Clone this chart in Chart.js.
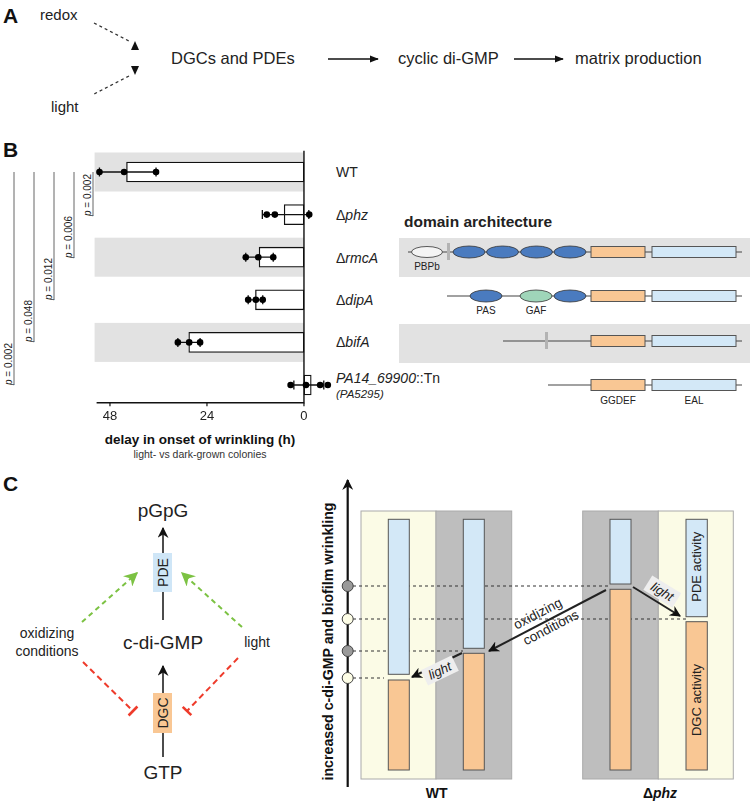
<!DOCTYPE html>
<html>
<head>
<meta charset="utf-8">
<script src="https://cdn.jsdelivr.net/npm/chart.js@4.4.1/dist/chart.umd.min.js"></script>
<style>
  body { margin: 0; background: #fff; }
  #wrap { position: relative; width: 750px; height: 804px; font-family: "Liberation Sans", Arial, Helvetica, sans-serif; }
  #fig { position: absolute; left: 0; top: 0; z-index: 0; }
  #chartB { position: absolute; left: 0; top: 140px; z-index: 1; }
  text { font-family: "Liberation Sans", Arial, Helvetica, sans-serif; fill: #222; }
</style>
</head>
<body>
<div id="wrap">
<svg id="fig" width="750" height="804" viewBox="0 0 750 804">
  <defs>
    <marker id="blk" viewBox="0 0 10 10" refX="9" refY="5" markerWidth="11" markerHeight="11" markerUnits="userSpaceOnUse" orient="auto">
      <path d="M0,0 L10,5 L0,10 L3,5 z" fill="#111"/>
    </marker>
    <marker id="blkS" viewBox="0 0 10 10" refX="9" refY="5" markerWidth="9" markerHeight="9" markerUnits="userSpaceOnUse" orient="auto">
      <path d="M0,1 L10,5 L0,9 z" fill="#111"/>
    </marker>
    <marker id="grn" viewBox="0 0 10 10" refX="9" refY="5" markerWidth="14" markerHeight="14" markerUnits="userSpaceOnUse" orient="auto">
      <path d="M0,0 L10,5 L0,10 L3,5 z" fill="#7cc243"/>
    </marker>
  </defs>

  <!-- panel A -->
  <text x="3" y="23" font-size="21" font-weight="bold" style="fill:#111">A</text>
  <text x="40" y="20" font-size="15">redox</text>
  <line x1="94" y1="23" x2="129" y2="41" stroke="#333" stroke-width="1.3" stroke-dasharray="3,3"/>
  <path d="M135,41 L131,50 L139,50 z" fill="#111"/>
  <path d="M131,66 L139,66 L135,75 z" fill="#111"/>
  <line x1="129" y1="76" x2="94" y2="94" stroke="#333" stroke-width="1.3" stroke-dasharray="3,3"/>
  <text x="51" y="112" font-size="15">light</text>
  <text x="171" y="64" font-size="16.5">DGCs and PDEs</text>
  <line x1="328" y1="59" x2="378" y2="59" stroke="#111" stroke-width="1.6" marker-end="url(#blkS)"/>
  <text x="398" y="64" font-size="16.5">cyclic di-GMP</text>
  <line x1="514" y1="59" x2="563" y2="59" stroke="#111" stroke-width="1.6" marker-end="url(#blkS)"/>
  <text x="575" y="64" font-size="16.5">matrix production</text>

  <!-- panel B annotations -->
  <text x="3" y="157" font-size="21" font-weight="bold" style="fill:#111">B</text>
  <g stroke="#666" stroke-width="1">
    <line x1="93" y1="172" x2="93" y2="216"/>
    <line x1="74" y1="172" x2="74" y2="258"/>
    <line x1="54" y1="172" x2="54" y2="300"/>
    <line x1="34" y1="172" x2="34" y2="342"/>
    <line x1="14" y1="172" x2="14" y2="385"/>
  </g>
  <g font-size="10" style="fill:#444">
    <text transform="translate(91,216) rotate(-90)"><tspan font-style="italic">p</tspan> = 0.002</text>
    <text transform="translate(72,258) rotate(-90)"><tspan font-style="italic">p</tspan> = 0.006</text>
    <text transform="translate(52,300) rotate(-90)"><tspan font-style="italic">p</tspan> = 0.012</text>
    <text transform="translate(32,342) rotate(-90)"><tspan font-style="italic">p</tspan> = 0.048</text>
    <text transform="translate(12,385) rotate(-90)"><tspan font-style="italic">p</tspan> = 0.002</text>
  </g>
  <rect x="399" y="238" width="351" height="39" fill="#e2e2e2"/>
  <rect x="399" y="324" width="351" height="39" fill="#e2e2e2"/>
  <g font-size="14" style="fill:#333">
    <text x="336" y="177">WT</text>
    <text x="336" y="220">Δ<tspan font-style="italic">phz</tspan></text>
    <text x="336" y="263">Δ<tspan font-style="italic">rmcA</tspan></text>
    <text x="336" y="305">Δ<tspan font-style="italic">dipA</tspan></text>
    <text x="336" y="347">Δ<tspan font-style="italic">bifA</tspan></text>
    <text x="336" y="383"><tspan font-style="italic">PA14_69900</tspan>::Tn</text>
    <text x="336" y="398" font-size="11.5" font-style="italic">(PA5295)</text>
  </g>
  <text x="404" y="227" font-size="15.5" font-weight="bold" style="fill:#222">domain architecture</text>
  <text x="200" y="444" font-size="13.5" font-weight="bold" text-anchor="middle" style="fill:#111">delay in onset of wrinkling (h)</text>
  <text x="200" y="458" font-size="10.5" text-anchor="middle" style="fill:#333">light- vs dark-grown colonies</text>

  <!-- domain architecture -->
  <g stroke="#444" stroke-width="1.2">
    <line x1="408" y1="252" x2="742" y2="252"/>
    <line x1="447" y1="296" x2="742" y2="296"/>
    <line x1="503" y1="341" x2="742" y2="341"/>
    <line x1="548" y1="385" x2="742" y2="385"/>
  </g>
  <g stroke="#333" stroke-width="0.8">
    <ellipse cx="427" cy="252" rx="15.5" ry="5.5" fill="#f4f4f4"/>
    <ellipse cx="469" cy="252" rx="16" ry="6" fill="#4a7bbf"/>
    <ellipse cx="502.5" cy="252" rx="16" ry="6" fill="#4a7bbf"/>
    <ellipse cx="536.5" cy="252" rx="16" ry="6" fill="#4a7bbf"/>
    <ellipse cx="570" cy="252" rx="16" ry="6" fill="#4a7bbf"/>
    <ellipse cx="486" cy="296" rx="16" ry="6" fill="#4a7bbf"/>
    <ellipse cx="536" cy="296" rx="16" ry="6" fill="#9fd5b9"/>
    <ellipse cx="570" cy="296" rx="16" ry="6" fill="#4a7bbf"/>
  </g>
  <rect x="447" y="243" width="3" height="17" fill="#b3b3b3"/>
  <rect x="545" y="332" width="3" height="17" fill="#b3b3b3"/>
  <g stroke="#555" stroke-width="1">
    <rect x="591" y="246.5" width="54" height="11" fill="#f9c794"/>
    <rect x="652" y="246.5" width="84" height="11" fill="#d3e8f7"/>
    <rect x="591" y="290.5" width="54" height="11" fill="#f9c794"/>
    <rect x="652" y="290.5" width="84" height="11" fill="#d3e8f7"/>
    <rect x="591" y="335.5" width="54" height="11" fill="#f9c794"/>
    <rect x="652" y="335.5" width="84" height="11" fill="#d3e8f7"/>
    <rect x="591" y="379.5" width="54" height="11" fill="#f9c794"/>
    <rect x="652" y="379.5" width="84" height="11" fill="#d3e8f7"/>
  </g>
  <g font-size="10" text-anchor="middle" style="fill:#333">
    <text x="427" y="270">PBPb</text>
    <text x="486" y="314">PAS</text>
    <text x="536" y="314">GAF</text>
    <text x="618" y="404">GGDEF</text>
    <text x="694" y="404">EAL</text>
  </g>

  <!-- panel C left -->
  <text x="3" y="491" font-size="21" font-weight="bold" style="fill:#111">C</text>
  <g font-size="19" text-anchor="middle">
    <text x="163" y="517">pGpG</text>
    <text x="163" y="649">c-di-GMP</text>
    <text x="163" y="779">GTP</text>
  </g>
  <line x1="163" y1="620" x2="163" y2="528" stroke="#111" stroke-width="1.5" marker-end="url(#blk)"/>
  <line x1="163" y1="757" x2="163" y2="666" stroke="#111" stroke-width="1.5" marker-end="url(#blk)"/>
  <rect x="153" y="553" width="19" height="39" fill="#cfe6f7"/>
  <rect x="153" y="693" width="19" height="40" fill="#f9c794"/>
  <text transform="translate(162.5,572.5) rotate(-90)" font-size="14" text-anchor="middle" dy="5">PDE</text>
  <text transform="translate(162.5,713) rotate(-90)" font-size="14" text-anchor="middle" dy="5">DGC</text>
  <g font-size="14" text-anchor="middle">
    <text x="47" y="638">oxidizing</text>
    <text x="47" y="656">conditions</text>
    <text x="257" y="647">light</text>
  </g>
  <line x1="82" y1="622" x2="137" y2="573" stroke="#7cc243" stroke-width="2" stroke-dasharray="5,4" marker-end="url(#grn)"/>
  <line x1="242" y1="627" x2="182" y2="573" stroke="#7cc243" stroke-width="2" stroke-dasharray="5,4" marker-end="url(#grn)"/>
  <g stroke="#ee3b2b" stroke-width="2">
    <line x1="83" y1="662" x2="133" y2="711" stroke-dasharray="6,4"/>
    <line x1="128.6" y1="715.5" x2="137.4" y2="706.5" stroke-width="2.6"/>
    <line x1="238" y1="658" x2="187" y2="711" stroke-dasharray="6,4"/>
    <line x1="182.7" y1="706.9" x2="191.3" y2="715.1" stroke-width="2.6"/>
  </g>

  <!-- panel C right -->
  <g stroke="#aaa" stroke-width="1">
    <rect x="361" y="511" width="75" height="268" fill="#fbfbe6"/>
    <rect x="436" y="511" width="75.7" height="268" fill="#bebebe"/>
    <rect x="582.7" y="511" width="75.6" height="268" fill="#bebebe"/>
    <rect x="658.3" y="511" width="75" height="268" fill="#fbfbe6"/>
  </g>
  <g stroke="#333" stroke-width="1.2" stroke-dasharray="3,3">
    <line x1="353" y1="586" x2="610" y2="586"/>
    <line x1="353" y1="619" x2="686" y2="619"/>
    <line x1="353" y1="651" x2="463" y2="651"/>
    <line x1="353" y1="678" x2="384" y2="678"/>
  </g>
  <g stroke="#555" stroke-width="1">
    <rect x="388.3" y="519.3" width="21" height="155" fill="#d3e8f7"/>
    <rect x="388.3" y="680" width="21" height="90" fill="#f9c794"/>
    <rect x="463.3" y="519.3" width="21" height="129" fill="#d3e8f7"/>
    <rect x="463.3" y="653.3" width="21" height="116.7" fill="#f9c794"/>
    <rect x="610" y="519.3" width="21" height="64.7" fill="#d3e8f7"/>
    <rect x="610" y="589.3" width="21" height="180.7" fill="#f9c794"/>
    <rect x="686" y="519.3" width="21.3" height="97.4" fill="#d3e8f7"/>
    <rect x="686" y="621.7" width="21.3" height="148.3" fill="#f9c794"/>
  </g>
  <line x1="347.7" y1="787" x2="347.7" y2="480" stroke="#111" stroke-width="2.2" marker-end="url(#blk)"/>
  <g stroke="#444" stroke-width="1">
    <circle cx="347.7" cy="586" r="5.5" fill="#9a9a9a"/>
    <circle cx="347.7" cy="619" r="5.5" fill="#fdfde6"/>
    <circle cx="347.7" cy="651" r="5.5" fill="#9a9a9a"/>
    <circle cx="347.7" cy="678" r="5.5" fill="#fdfde6"/>
  </g>
  <text transform="translate(333,641.5) rotate(-90)" font-size="14.2" font-weight="bold" text-anchor="middle" style="fill:#111">increased c-di-GMP and biofilm wrinkling</text>
  <text transform="translate(696.7,566.7) rotate(-90)" font-size="13" text-anchor="middle" dy="4.5">PDE activity</text>
  <text transform="translate(696.7,700) rotate(-90)" font-size="13" text-anchor="middle" dy="4.5">DGC activity</text>

  <line x1="606" y1="590" x2="489" y2="651" stroke="#222" stroke-width="2" marker-end="url(#blk)"/>
  <g font-size="13.5" text-anchor="middle">
    <text transform="translate(538,614) rotate(-27.5)" dy="4">oxidizing</text>
    <text transform="translate(551,628) rotate(-27.5)" dy="4">conditions</text>
  </g>
  <line x1="462" y1="653" x2="412" y2="677" stroke="#222" stroke-width="2" marker-end="url(#blk)"/>
  <g transform="translate(440,671) rotate(-25.6)">
    <rect x="-17" y="-9" width="34" height="17" fill="#eeeeee"/>
    <text font-size="13" font-style="italic" text-anchor="middle" dy="4">light</text>
  </g>
  <line x1="633" y1="587" x2="680" y2="616" stroke="#222" stroke-width="2" marker-end="url(#blk)"/>
  <g transform="translate(662,592) rotate(31.7)">
    <rect x="-17" y="-9" width="34" height="17" fill="#eeeeee"/>
    <text font-size="13" font-style="italic" text-anchor="middle" dy="4">light</text>
  </g>
  <text x="436.7" y="798" font-size="14" font-weight="bold" text-anchor="middle" style="fill:#111">WT</text>
  <text x="660" y="798" font-size="14" font-weight="bold" text-anchor="middle" style="fill:#111">Δ<tspan font-style="italic">phz</tspan></text>
</svg>
<canvas id="chartB" width="345" height="280"></canvas>
</div>

<script>
// panel B: delay in onset of wrinkling (h), light- vs dark-grown colonies
const strains = ['WT', 'Δphz', 'ΔrmcA', 'ΔdipA', 'ΔbifA', 'PA14_69900::Tn'];
const meanDelay = [43.9, 4.9, 11.1, 12.0, 28.5, -1.8];
const errLow = [36.6, -1.2, 7.6, 10.2, 25.7, -4.9];
const errHigh = [50.6, 10.3, 14.4, 13.8, 31.2, 2.5];
const replicates = [
  [50.6, 44.5, 36.6],
  [9.2, 7.2, -1.3],
  [14.4, 11.3, 7.6],
  [13.8, 11.9, 10.2],
  [31.2, 28.4, 25.7],
  [3.3, -0.5, -4.0, -5.9]
];
const xTicks = [48, 24, 0];
const shadedRows = [0, 2, 4];

const dotData = [];
replicates.forEach(function (vals, i) {
  vals.forEach(function (v) {
    dotData.push({ x: v, y: strains[i] });
  });
});

const panelB = {
  id: 'panelB',
  beforeDatasetsDraw(chart) {
    const { ctx, chartArea, scales: { x, y } } = chart;
    const x0 = x.getPixelForValue(0);
    ctx.save();
    ctx.fillStyle = '#e2e2e2';
    shadedRows.forEach(function (i) {
      const cy = y.getPixelForValue(i);
      ctx.fillRect(chartArea.left, cy - 19.5, x0 - chartArea.left, 39);
    });
    ctx.restore();
  },
  afterDatasetDraw(chart, args) {
    if (args.meta.type !== 'bar') return;
    const { ctx, chartArea, scales: { x, y } } = chart;
    ctx.save();
    ctx.strokeStyle = '#111';
    ctx.lineWidth = 1.3;
    strains.forEach(function (s, i) {
      const cy = y.getPixelForValue(i);
      const a = x.getPixelForValue(errLow[i]);
      const b = x.getPixelForValue(errHigh[i]);
      ctx.beginPath();
      ctx.moveTo(a, cy); ctx.lineTo(b, cy);
      ctx.moveTo(a, cy - 4.5); ctx.lineTo(a, cy + 4.5);
      ctx.moveTo(b, cy - 4.5); ctx.lineTo(b, cy + 4.5);
      ctx.stroke();
    });
    // zero line and axis
    const x0 = x.getPixelForValue(0);
    const axisY = chartArea.bottom - 3.5;
    ctx.lineWidth = 1.4;
    ctx.beginPath();
    ctx.moveTo(x0, chartArea.top); ctx.lineTo(x0, axisY);
    ctx.moveTo(chartArea.left + 2, axisY); ctx.lineTo(x0 + 0.7, axisY);
    ctx.stroke();
    ctx.lineWidth = 1.2;
    ctx.fillStyle = '#222';
    ctx.font = '13px "Liberation Sans", Arial, sans-serif';
    ctx.textAlign = 'center';
    ctx.textBaseline = 'middle';
    xTicks.forEach(function (t) {
      const px = x.getPixelForValue(t);
      ctx.beginPath();
      ctx.moveTo(px, axisY); ctx.lineTo(px, axisY + 3.5);
      ctx.stroke();
      ctx.fillText(String(t), px, axisY + 14);
    });
    ctx.restore();
  }
};

new Chart(document.getElementById('chartB'), {
  data: {
    labels: strains,
    datasets: [
      {
        type: 'scatter',
        data: dotData,
        pointRadius: 3.3,
        pointBackgroundColor: '#000',
        pointBorderWidth: 0,
        order: 0
      },
      {
        type: 'bar',
        data: meanDelay,
        backgroundColor: '#fff',
        borderColor: '#111',
        borderWidth: 1.3,
        borderSkipped: false,
        barThickness: 20,
        order: 1
      }
    ]
  },
  options: {
    responsive: false,
    animation: false,
    indexAxis: 'y',
    layout: { padding: { left: 94.6, right: 8.7, top: 10.7, bottom: 13.7 } },
    scales: {
      x: { type: 'linear', display: false, reverse: true, min: -8, max: 51.8 },
      y: { type: 'category', display: false, offset: true }
    },
    plugins: {
      legend: { display: false },
      tooltip: { enabled: false }
    }
  },
  plugins: [panelB]
});
</script>
</body>
</html>
